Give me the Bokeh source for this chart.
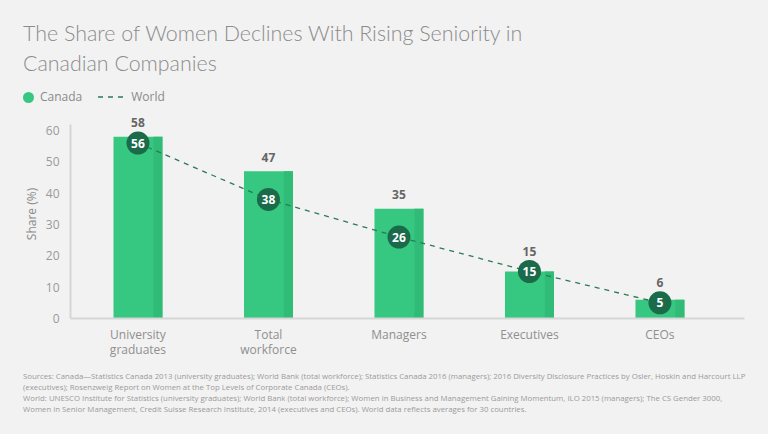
from bokeh.plotting import figure
from bokeh.models import Div, FixedTicker, Range1d
from bokeh.layouts import column
from bokeh.embed import file_html
from bokeh.resources import INLINE
from bokeh.core.properties import value

# ---- data ----
categories = ["University\ngraduates", "Total\nworkforce", "Managers", "Executives", "CEOs"]
canada = [58, 47, 35, 15, 6]
world = [56, 38, 26, 15, 5]
y_ticks = [0, 10, 20, 30, 40, 50, 60]
title_lines = ["The Share of Women Declines With Rising Seniority in", "Canadian Companies"]
legend_labels = ["Canada", "World"]
y_label = "Share (%)"
source_lines = [
    "Sources: Canada\u2014Statistics Canada 2013 (university graduates); World Bank (total workforce); Statistics Canada 2016 (managers); 2016 Diversity Disclosure Practices by Osler, Hoskin and Harcourt LLP",
    "(executives); Rosenzweig Report on Women at the Top Levels of Corporate Canada (CEOs).",
    "World: UNESCO Institute for Statistics (university graduates); World Bank (total workforce); Women in Business and Management Gaining Momentum, ILO 2015 (managers); The CS Gender 3000,",
    "Women in Senior Management, Credit Suisse Research Institute, 2014 (executives and CEOs). World data reflects averages for 30 countries.",
]

BG = "#f2f2f2"
GREEN = "#36c780"
GREEN_SHADE = "#30bb76"
DARK = "#1b6b4b"
LINE = "#2b7a57"
FONT = "Open Sans"

xs = list(range(len(categories)))
bar_w = 0.375
shade_w = 0.069
PX_PER_UNIT = 3.135  # vertical scale used to keep value labels clear of the circles

# ---- header ----
header_html = (
    f'<div style="position:fixed;left:0;top:0;width:100vw;height:100vh;background:{BG};z-index:-1"></div>'
    f'<div style="padding:18px 0 0 23px;font-family:Lato,sans-serif;font-weight:300;font-size:21.4px;'
    f'line-height:30px;color:#8c8c8c;white-space:nowrap;">{title_lines[0]}<br>{title_lines[1]}</div>'
    f'<div style="margin:8px 0 0 23px;height:22px;display:flex;align-items:center;'
    f'font-family:\'{FONT}\',sans-serif;font-size:12px;color:#8a8a8a;">'
    f'<span style="display:inline-block;width:11px;height:11px;border-radius:50%;background:{GREEN};"></span>'
    f'<span style="margin-left:6px;">{legend_labels[0]}</span>'
    f'<svg width="26" height="4" style="margin-left:16px;"><line x1="0" y1="2" x2="26" y2="2" '
    f'stroke="{LINE}" stroke-width="1.3" stroke-dasharray="5 5"/></svg>'
    f'<span style="margin-left:7px;">{legend_labels[1]}</span>'
    f'</div>'
)
header = Div(text=header_html, width=768, height=108, margin=(0, 0, 0, 0),
             styles={"background-color": BG})

# ---- figure ----
p = figure(width=768, height=262, output_backend="svg", toolbar_location=None,
           title=None,
           x_range=Range1d(-0.517, 4.648), y_range=Range1d(0, 66.7),
           min_border_left=70, min_border_right=24, min_border_top=1, min_border_bottom=52,
           background_fill_color=BG, border_fill_color=BG)
p.outline_line_color = None
p.xgrid.grid_line_color = None
p.ygrid.grid_line_color = None

p.vbar(x=xs, top=canada, width=bar_w, fill_color=GREEN, line_color=None)
p.vbar(x=[x + bar_w / 2 - shade_w / 2 for x in xs], top=canada, width=shade_w,
       fill_color=GREEN_SHADE, line_color=None)

p.line(xs, world, line_color=LINE, line_width=1.3, line_dash="5 5")
p.scatter(xs, world, size=23, fill_color=DARK, line_color=None)
p.text(xs, world, text=[str(v) for v in world], text_align="center", text_baseline="middle",
       text_color="white", text_font=value(FONT), text_font_style="bold", text_font_size="12px")

label_offsets = [-max(14.0, 20.0 - (c - w) * PX_PER_UNIT) for c, w in zip(canada, world)]
p.text(xs, canada, text=[str(v) for v in canada], y_offset=label_offsets, text_align="center",
       text_baseline="middle", text_color="#666666", text_font=value(FONT),
       text_font_style="bold", text_font_size="12px")

xa = p.xaxis[0]
xa.ticker = FixedTicker(ticks=xs)
xa.major_label_overrides = {i: c for i, c in zip(xs, categories)}
xa.major_tick_line_color = None
xa.minor_tick_line_color = None
xa.axis_line_color = "#d6d6d6"
xa.axis_line_width = 2
xa.major_label_text_font = FONT
xa.major_label_text_font_size = "12px"
xa.major_label_text_color = "#8f8f8f"
xa.major_label_text_line_height = 0.92
xa.major_label_standoff = 1

ya = p.yaxis[0]
ya.ticker = FixedTicker(ticks=y_ticks)
ya.bounds = (0, 61.8)
ya.major_tick_line_color = None
ya.minor_tick_line_color = None
ya.axis_line_color = "#d6d6d6"
ya.axis_line_width = 2
ya.major_label_text_font = FONT
ya.major_label_text_font_size = "12px"
ya.major_label_text_color = "#9a9a9a"
ya.major_label_standoff = 5
ya.axis_label = y_label
ya.axis_label_text_font = FONT
ya.axis_label_text_font_size = "12px"
ya.axis_label_text_font_style = "normal"
ya.axis_label_text_color = "#8a8a8a"
ya.axis_label_standoff = 3

# ---- footer ----
footer_html = (
    f'<div style="padding:1px 0 0 23px;font-family:\'{FONT}\',sans-serif;font-size:7.8px;'
    f'line-height:11px;color:#9a9a9a;white-space:nowrap;">'
    + "<br>".join(source_lines) + '</div>'
)
footer = Div(text=footer_html, width=768, height=64, margin=(0, 0, 0, 0),
             styles={"background-color": BG})

layout = column(header, p, footer, spacing=0, margin=(0, 0, 0, 0),
                styles={"background-color": BG})

open("out.html", "w").write(file_html(layout, INLINE))
